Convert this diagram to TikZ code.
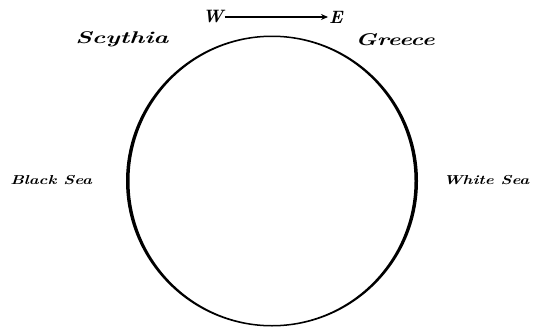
\documentclass[tikz,border=0pt]{standalone}
\usetikzlibrary{positioning, arrows.meta}

\begin{document}
\begin{tikzpicture}[
    x=1bp, y=1bp,
    map label/.style={
      font=\fontsize{17}{17}\selectfont\bfseries\itshape,
      inner sep=0pt,
      anchor=west,
      xscale=1.5,
      transform shape
    },
    sea label/.style={
      map label,
      font=\fontsize{13}{13}\selectfont\bfseries\itshape,
      xscale=0.86
    },
    compass label/.style={
      font=\fontsize{18}{18}\selectfont\bfseries\itshape,
      inner sep=1pt
    },
    compass arrow/.style={
      -{Stealth[length=7pt, width=6pt]},
      line width=1.8pt
    }
  ]

    \useasboundingbox (0,0) rectangle (547,328);

    % the circle of the earth, heavier at the sides
    \coordinate (centre) at (272,147);
    \fill[even odd rule]
      (centre) ellipse [x radius=146, y radius=145.5]
      (centre) ellipse [x radius=142.5, y radius=144];

    \node[map label] (scythia) at (75,289) {Scythia};
    \node[map label, xscale=0.95] (greece) at (355,288) {Greece};

    \node[sea label] (blacksea) at (10,148) {Black Sea};
    \node[sea label] (whitesea) at (443,148) {White Sea};

    \node[compass label] (west) at (213,311) {W};
    \node[compass label] (east) at (336,311) {E};
    \draw[compass arrow] (west) -- (east);

  \end{tikzpicture}
\end{document}
